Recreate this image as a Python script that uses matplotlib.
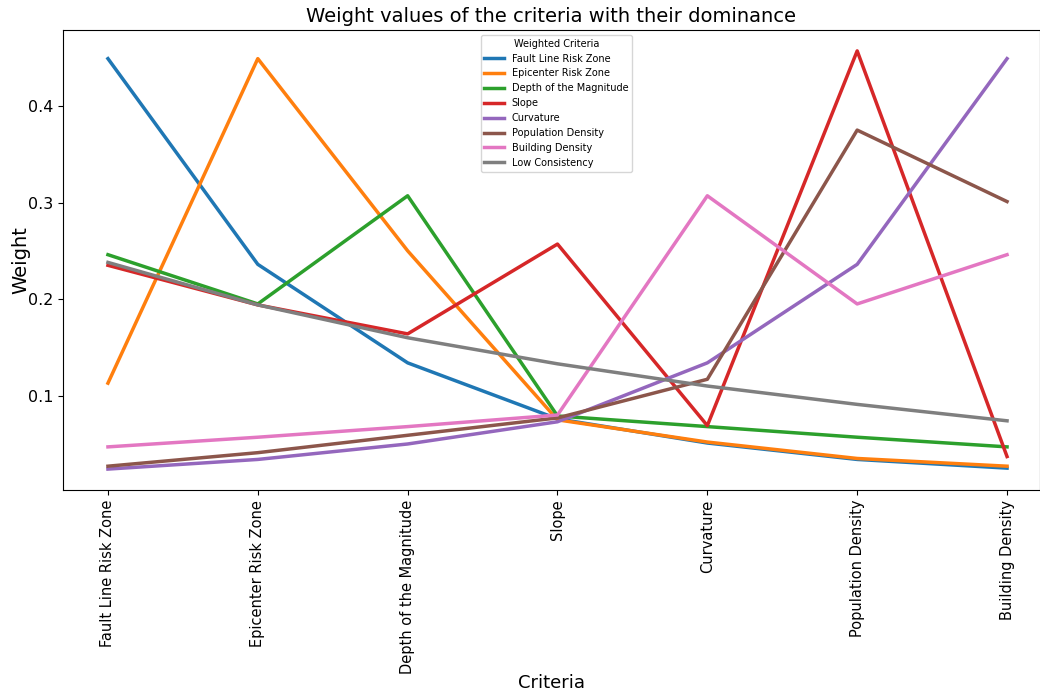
import matplotlib
matplotlib.use('Agg')
import matplotlib.pyplot as plt


width = 1040
height = 694
dpi = 100
figsize = (width/dpi, height/dpi)

criteria = [
    'Fault Line Risk Zone',
    'Epicenter Risk Zone',
    'Depth of the Magnitude',
    'Slope',
    'Curvature',
    'Population Density',
    'Building Density',
]

fault_line = [0.449, 0.236, 0.134, 0.076, 0.051, 0.034, 0.025]
epicenter = [0.113, 0.449, 0.250, 0.075, 0.052, 0.035, 0.027]
depth = [0.246, 0.195, 0.307, 0.079, 0.068, 0.057, 0.047]
slope = [0.235, 0.194, 0.164, 0.257, 0.069, 0.457, 0.037]
curvature = [0.024, 0.034, 0.050, 0.073, 0.134, 0.236, 0.449]
population = [0.027, 0.041, 0.059, 0.077, 0.117, 0.375, 0.301]
building = [0.047, 0.057, 0.068, 0.080, 0.307, 0.195, 0.246]
low_consistency = [0.238, 0.194, 0.160, 0.133, 0.110, 0.091, 0.074]

series = [
    ('Fault Line Risk Zone', fault_line),
    ('Epicenter Risk Zone', epicenter),
    ('Depth of the Magnitude', depth),
    ('Slope', slope),
    ('Curvature', curvature),
    ('Population Density', population),
    ('Building Density', building),
    ('Low Consistency', low_consistency),
]


fig = plt.figure(figsize=figsize, dpi=dpi)
ax = fig.add_axes([63/width, 1 - 490/height, 1 - 63/width, 460/height])

for name, values in series:
    ax.plot(criteria, values, linewidth=2.5, label=name)

ax.set_xlim(-0.3, 6 + 33/150)
ax.set_title('Weight values of the criteria with their dominance', fontsize=14)
ax.set_xlabel('Criteria', fontsize=13, labelpad=0)
ax.set_ylabel('Weight', fontsize=14, labelpad=-2)
ax.tick_params(axis='x', labelrotation=90, labelsize=10.5)
ax.tick_params(axis='y', labelsize=11.5)
ax.legend(title='Weighted Criteria', fontsize=7, title_fontsize=7,
          loc='upper center', bbox_to_anchor=(0.505, 1.0))

plt.savefig('out.png', dpi=dpi)
